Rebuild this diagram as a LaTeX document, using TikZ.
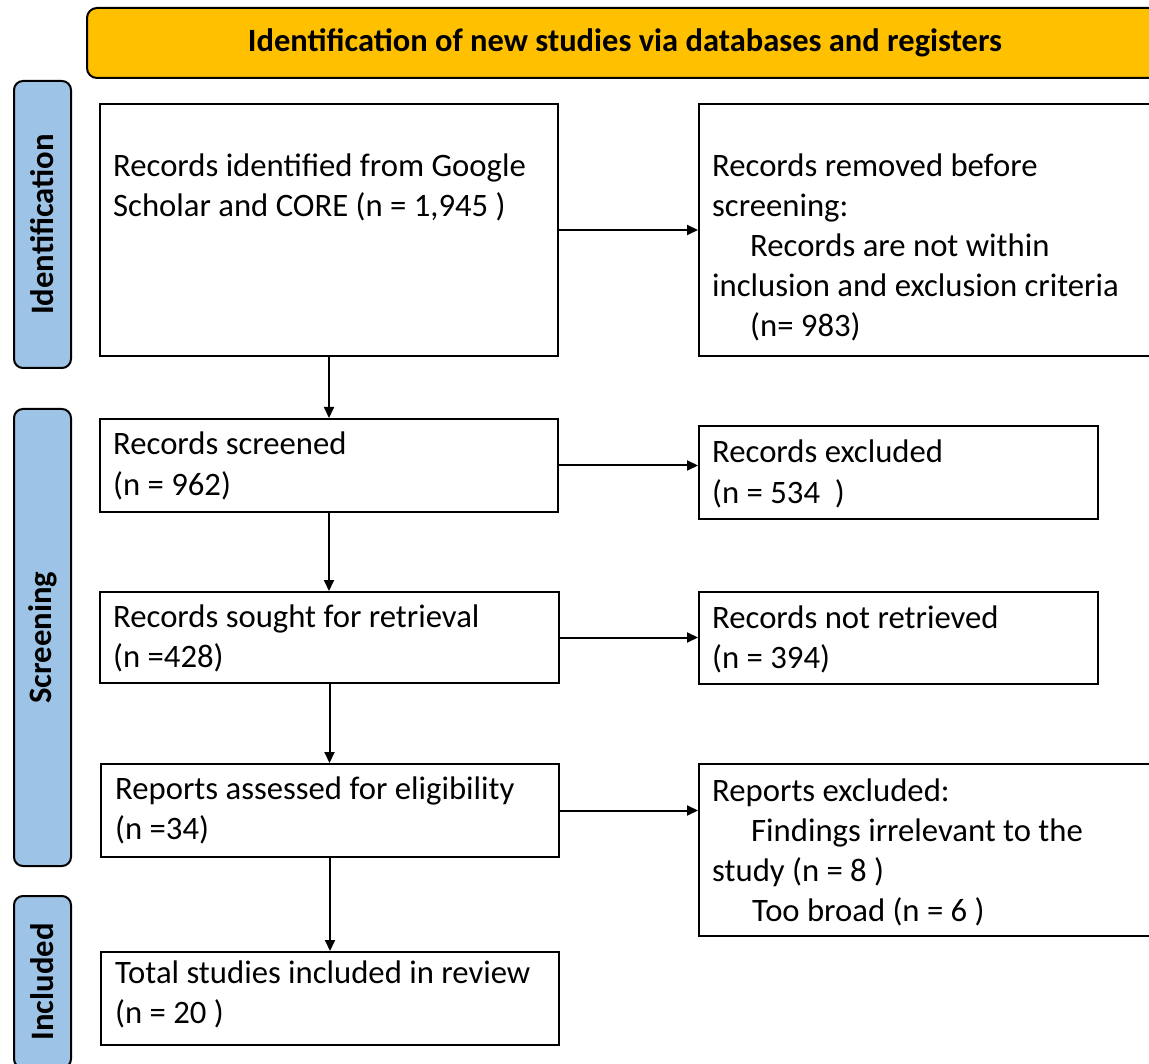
\documentclass[tikz,border=0pt]{standalone}
\usepackage{fontspec}
\setmainfont{Carlito}
\usetikzlibrary{arrows.meta}

\definecolor{headgold}{HTML}{FFC000}
\definecolor{phaseblue}{HTML}{9DC3E6}

\tikzset{
  box/.style={draw, line width=2pt, inner sep=0pt, anchor=north west},
  % texts are placed by the baseline of their last line
  txt/.style={inner sep=0pt, anchor=base west, align=left,
              font=\fontsize{32.7}{40}\selectfont},
  phase/.style={draw, line width=2pt, fill=phaseblue, rounded corners=9pt,
                inner sep=0pt, anchor=north west},
  phasetxt/.style={rotate=90, font=\fontsize{32.7}{38}\selectfont\bfseries},
  flow/.style={line width=2pt, -{Triangle[length=11pt,width=10pt]}},
}

\begin{document}
\begin{tikzpicture}[x=1pt, y=-1pt]
  \path[use as bounding box] (0,0) rectangle (1149,1064);
  \clip (0,0) rectangle (1149,1064);

  % title banner
  \node[box, fill=headgold, rounded corners=10pt, minimum width=1076pt,
        minimum height=70pt, font=\fontsize{32.5}{38}\selectfont\bfseries]
        (head) at (86,7) {Identification of new studies via databases and registers};

  % phase labels
  \node[phase, minimum width=57pt, minimum height=287pt] (pid) at (13,80) {};
  \node[phasetxt] (pidt) at (pid.center) {Identification};
  \node[phase, minimum width=57pt, minimum height=457pt] (psc) at (13,408) {};
  \node[phasetxt] (psct) at (psc.center) {Screening};
  \node[phase, minimum width=57pt, minimum height=172pt] (pin) at (13,895) {};
  \node[phasetxt] (pint) at (pin.center) {Included};

  % main column
  \node[box, minimum width=458pt, minimum height=252pt] (b1) at (99,103) {};
  \node[box, minimum width=458pt, minimum height=93pt]  (b2) at (99,418) {};
  \node[box, minimum width=459pt, minimum height=91pt]  (b3) at (99,591) {};
  \node[box, minimum width=458pt, minimum height=93pt]  (b4) at (100,763) {};
  \node[box, minimum width=458pt, minimum height=93pt]  (b5) at (100,951) {};

  % side column
  \node[box, minimum width=500pt, minimum height=252pt] (r1) at (698,103) {};
  \node[box, minimum width=399pt, minimum height=93pt]  (r2) at (698,425) {};
  \node[box, minimum width=399pt, minimum height=92pt]  (r3) at (698,591) {};
  \node[box, minimum width=500pt, minimum height=172pt] (r4) at (698,763) {};

  % box texts
  \node[txt] (t1) at (113,217) {Records identified from Google\\Scholar and CORE (n = 1,945 )};
  \node[txt] (t2) at (113,495) {Records screened\\(n = 962)};
  \node[txt] (t3) at (113,667) {Records sought for retrieval\\(n =428)};
  \node[txt] (t4) at (115,839) {Reports assessed for eligibility\\(n =34)};
  \node[txt] (t5) at (115,1023) {Total studies included in review\\(n = 20 )};

  \node[txt] (s1) at (712,337) {Records removed before\\screening:\\
    \hspace*{38pt}Records are not within\\inclusion and exclusion criteria\\
    \hspace*{38pt}(n= 983)};
  \node[txt] (s2) at (712,503) {Records excluded\\(n = 534\ \ )};
  \node[txt] (s3) at (712,668) {Records not retrieved\\(n = 394)};
  \node[txt] (s4) at (712,921) {Reports excluded:\\
    \hspace*{39pt}Findings irrelevant to the\\study (n = 8 )\\
    \hspace*{40pt}Too broad (n = 6 )};

  % connectors
  \draw[flow] (b1.south) -- (b1.south |- b2.north);
  \draw[flow] (b2.south) -- (b2.south |- b3.north);
  \draw[flow] (b3.south) -- (b3.south |- b4.north);
  \draw[flow] (b4.south) -- (b4.south |- b5.north);

  \draw[flow] (b1.east) -- (b1.east -| r1.west);
  \draw[flow] (b2.east) -- (b2.east -| r2.west);
  \draw[flow] (b3.east) -- (b3.east -| r3.west);
  \draw[flow] (b4.east) -- (b4.east -| r4.west);
\end{tikzpicture}
\end{document}
